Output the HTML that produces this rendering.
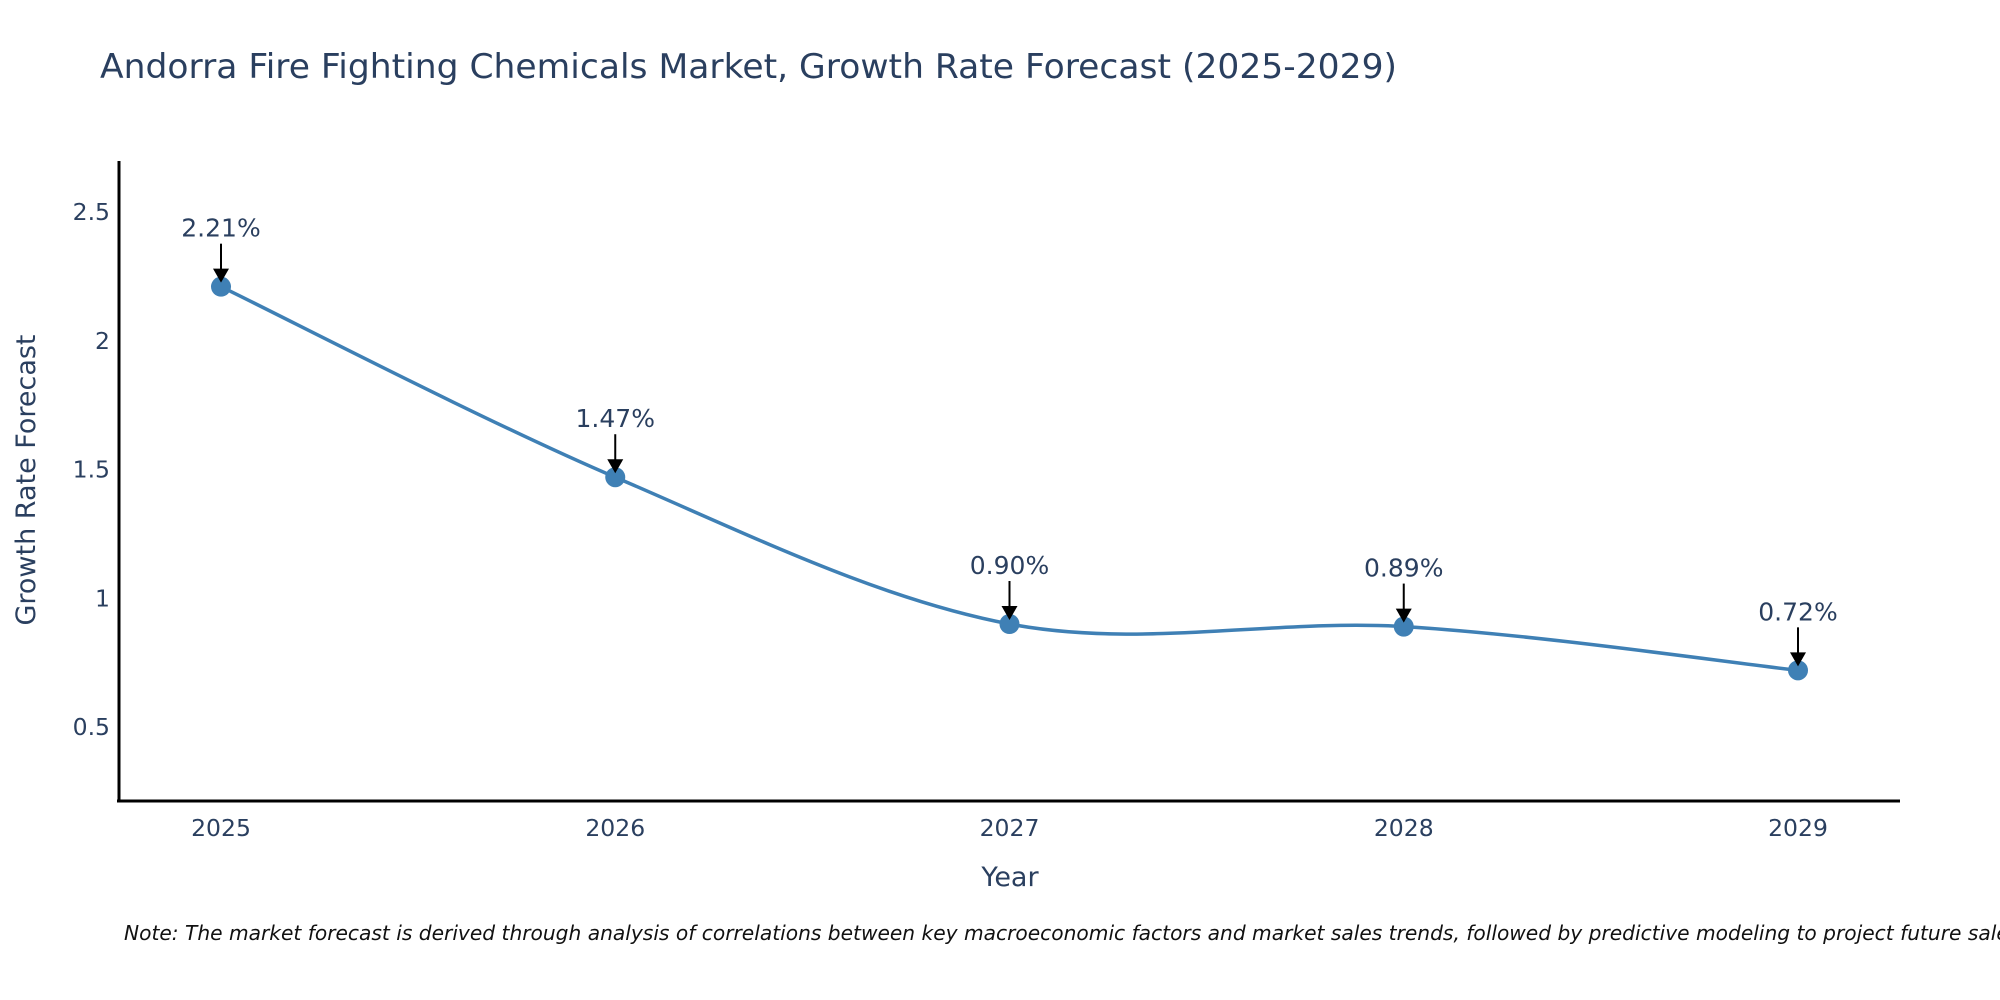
<!DOCTYPE html>
<html><head><meta charset="utf-8"><style>
html,body{margin:0;padding:0;background:#fff;}
svg{display:block;font-family:"DejaVu Sans","Liberation Sans",sans-serif;}
</style></head><body>
<svg id="chart" width="2000" height="1000" viewBox="0 0 2000 1000" xmlns="http://www.w3.org/2000/svg">
<text x="100" y="78" font-size="34" fill="#2a3f5f" textLength="1297" lengthAdjust="spacingAndGlyphs">Andorra Fire Fighting Chemicals Market, Growth Rate Forecast (2025-2029)</text>
<line x1="119" y1="161" x2="119" y2="802" stroke="#000" stroke-width="3"/>
<line x1="117" y1="801" x2="1900" y2="801" stroke="#000" stroke-width="3"/>
<g id="yticks"></g>
<g id="xticks"></g>
<text x="1010" y="886" font-size="27" fill="#2a3f5f" text-anchor="middle">Year</text>
<text transform="translate(35,480) rotate(-90)" font-size="27" fill="#2a3f5f" text-anchor="middle">Growth Rate Forecast</text>
<path id="series-line" fill="none" stroke="#3f80b5" stroke-width="3.5"/>
<g id="marks"></g>
<text x="124" y="940" font-size="20.2" font-style="italic" fill="#111">Note: The market forecast is derived through analysis of correlations between key macroeconomic factors and market sales trends, followed by predictive modeling to project future sales.</text>
</svg>
<script>
const years = ["2025","2026","2027","2028","2029"];
const growthValues = [2.21, 1.47, 0.90, 0.89, 0.72];
const valueLabels = ["2.21%","1.47%","0.90%","0.89%","0.72%"];
const yTickValues = [0.5, 1, 1.5, 2, 2.5];
const yTickLabels = ["0.5","1","1.5","2","2.5"];

const NS = "http://www.w3.org/2000/svg";
function xPos(i){ return 221 + i * 394.25; }
function yPos(v){ return 727 - (v - 0.5) * 257.5; }
function mk(tag, attrs, parent){
  const e = document.createElementNS(NS, tag);
  for (const k in attrs) e.setAttribute(k, attrs[k]);
  parent.appendChild(e); return e;
}
const yt = document.getElementById('yticks');
yTickValues.forEach((v, i) => {
  const t = mk('text', {x: 110, y: yPos(v) + 8, 'font-size': 23.5, fill: '#2a3f5f', 'text-anchor': 'end'}, yt);
  
  
  t.textContent = yTickLabels[i];
});
const xt = document.getElementById('xticks');
years.forEach((y, i) => {
  const t = mk('text', {x: xPos(i), y: 836, 'font-size': 23.5, fill: '#2a3f5f', 'text-anchor': 'middle'}, xt);
  
  
  t.textContent = y;
});
const pts = growthValues.map((v, i) => [xPos(i), yPos(v)]);
let d = `M${pts[0][0]},${pts[0][1]}`;
const s = 1/6;
for (let i = 0; i < pts.length - 1; i++){
  const p0 = pts[i-1] || pts[i], p1 = pts[i], p2 = pts[i+1], p3 = pts[i+2] || pts[i+1];
  const c1 = [p1[0] + (p2[0]-p0[0])*s, p1[1] + (p2[1]-p0[1])*s];
  const c2 = [p2[0] - (p3[0]-p1[0])*s, p2[1] - (p3[1]-p1[1])*s];
  d += ` C${c1[0]},${c1[1]} ${c2[0]},${c2[1]} ${p2[0]},${p2[1]}`;
}
document.getElementById('series-line').setAttribute('d', d);
const mg = document.getElementById('marks');
growthValues.forEach((v, i) => {
  const x = xPos(i), y = yPos(v);
  const c = mk('circle', {cx: x, cy: y, r: 10, fill: '#3f80b5'}, mg);
  
  
  const l = mk('line', {x1: x, y1: y - 43, x2: x, y2: y - 16, stroke: '#000', 'stroke-width': 2}, mg);
  
  
  const h = mk('polygon', {points: `${x-8},${y-18} ${x+8},${y-18} ${x},${y-4}`, fill: '#000'}, mg);
  
  
  const t = mk('text', {x: x, y: y - 50, 'font-size': 25, fill: '#2a3f5f', 'text-anchor': 'middle'}, mg);
  
  
  t.textContent = valueLabels[i];
});
</script>
</body></html>
